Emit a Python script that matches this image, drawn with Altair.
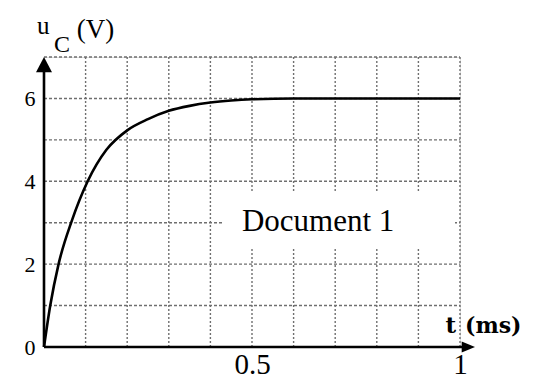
import altair as alt
import pandas as pd

# curve
t_ms = [0, 0.015, 0.035, 0.067, 0.105, 0.15, 0.20, 0.25, 0.30, 0.35, 0.40, 0.45, 0.50, 0.60, 0.70, 0.80, 1.00]
u_c = [0, 1.0, 2.0, 3.05, 4.0, 4.76, 5.23, 5.5, 5.7, 5.82, 5.9, 5.95, 5.98, 6.0, 6.0, 6.0, 6.0]

# grid
h_grid = [1, 2, 3, 4, 5, 6, 7]
v_grid = [0.1, 0.2, 0.3, 0.4, 0.5, 0.6, 0.7, 0.8, 0.9, 1.0]

y_ticks = [0, 2, 4, 6]
x_ticks = [0.5, 1]

xs = alt.Scale(domain=[0, 1], nice=False, zero=False)
ys = alt.Scale(domain=[0, 7], nice=False, zero=False)

AX = alt.Axis(values=x_ticks, format="~g", domain=False, ticks=False, grid=False, title=None,
              labelFont="Liberation Serif", labelFontSize=29, labelColor="black",
              labelPadding=3, labelFlush=False, labelOverlap=False, labelBound=False)
AY = alt.Axis(values=y_ticks, format="~g", domain=False, ticks=False, grid=False, title=None,
              labelFont="Liberation Serif", labelFontSize=22, labelColor="black",
              labelPadding=9, labelFlush=False, labelOverlap=False, labelBound=False)


def X(f):
    return alt.X(f, scale=xs, axis=AX)


def Y(f):
    return alt.Y(f, scale=ys, axis=AY)


curve_df = pd.DataFrame({"t": t_ms, "u": u_c})
hg_df = pd.DataFrame({"u": h_grid, "t0": 0.0, "t1": 1.0})
vg_df = pd.DataFrame({"t": v_grid, "u0": 0.0, "u1": 7.0})

GRID = "#6f6f6f"

hgrid = alt.Chart(hg_df).mark_rule(color=GRID, strokeWidth=1.4, strokeDash=[3, 2]).encode(
    x=X("t0:Q"), x2="t1:Q", y=Y("u:Q"))
vgrid = alt.Chart(vg_df).mark_rule(color=GRID, strokeWidth=1.4, strokeDash=[2, 2]).encode(
    x=X("t:Q"), y=Y("u0:Q"), y2="u1:Q")

box_df = pd.DataFrame({"t0": [0.432], "t1": [0.988], "u0": [2.37], "u1": [3.73]})
box = alt.Chart(box_df).mark_rect(color="white").encode(
    x=X("t0:Q"), x2="t1:Q", y=Y("u0:Q"), y2="u1:Q")

xaxis_df = pd.DataFrame({"t0": [0.0], "t1": [1.025], "u": [0.0]})
xaxis_line = alt.Chart(xaxis_df).mark_rule(color="black", strokeWidth=2.6).encode(
    x=X("t0:Q"), x2="t1:Q", y=Y("u:Q"))
yaxis_df = pd.DataFrame({"t": [0.0], "u0": [0.0], "u1": [6.8]})
yaxis_line = alt.Chart(yaxis_df).mark_rule(color="black", strokeWidth=2.6).encode(
    x=X("t:Q"), y=Y("u0:Q"), y2="u1:Q")

yarrow = alt.Chart(pd.DataFrame({"t": [0.0], "u": [7.0]})).mark_point(
    shape="M0,0L1,1.9L-1,1.9Z", size=256, filled=True, color="black", opacity=1).encode(
    x=X("t:Q"), y=Y("u:Q"))
xarrow = alt.Chart(pd.DataFrame({"t": [1.036], "u": [0.0]})).mark_point(
    shape="M0,0L-1.9,0.8L-1.9,-0.8Z", size=196, filled=True, color="black", opacity=1).encode(
    x=X("t:Q"), y=Y("u:Q"))

curve = alt.Chart(curve_df).mark_line(color="black", strokeWidth=2.6, interpolate="monotone").encode(
    x=X("t:Q"), y=Y("u:Q"))


def label(text, t, u, font, size, weight="normal", align="center"):
    return alt.Chart(pd.DataFrame({"t": [t], "u": [u], "s": [text]})).mark_text(
        font=font, fontSize=size, fontWeight=weight, align=align, baseline="alphabetic",
        color="black").encode(x=X("t:Q"), y=Y("u:Q"), text="s:N")


texts = [
    label("Document 1", 0.659, 2.79, "Liberation Serif", 31),
    label("t", 0.978, 0.35, "DejaVu Serif", 23, "bold"),
    label("(ms)", 1.012, 0.35, "DejaVu Serif", 22, "bold", "left"),
    label("u", -0.002, 7.55, "Liberation Serif", 25),
    label("C", 0.043, 7.13, "Liberation Serif", 24),
    label("(V)", 0.124, 7.45, "Liberation Serif", 27),
]

chart = alt.layer(hgrid, vgrid, box, xaxis_line, yaxis_line, yarrow, xarrow, curve, *texts).properties(
    width=416, height=290,
    autosize=alt.AutoSizeParams(type="none"),
    padding={"left": 36, "top": 49, "right": 68, "bottom": 45},
).configure_view(stroke=None).configure(background="white")

chart.save("out.html", embed_options={"renderer": "svg", "actions": False})
